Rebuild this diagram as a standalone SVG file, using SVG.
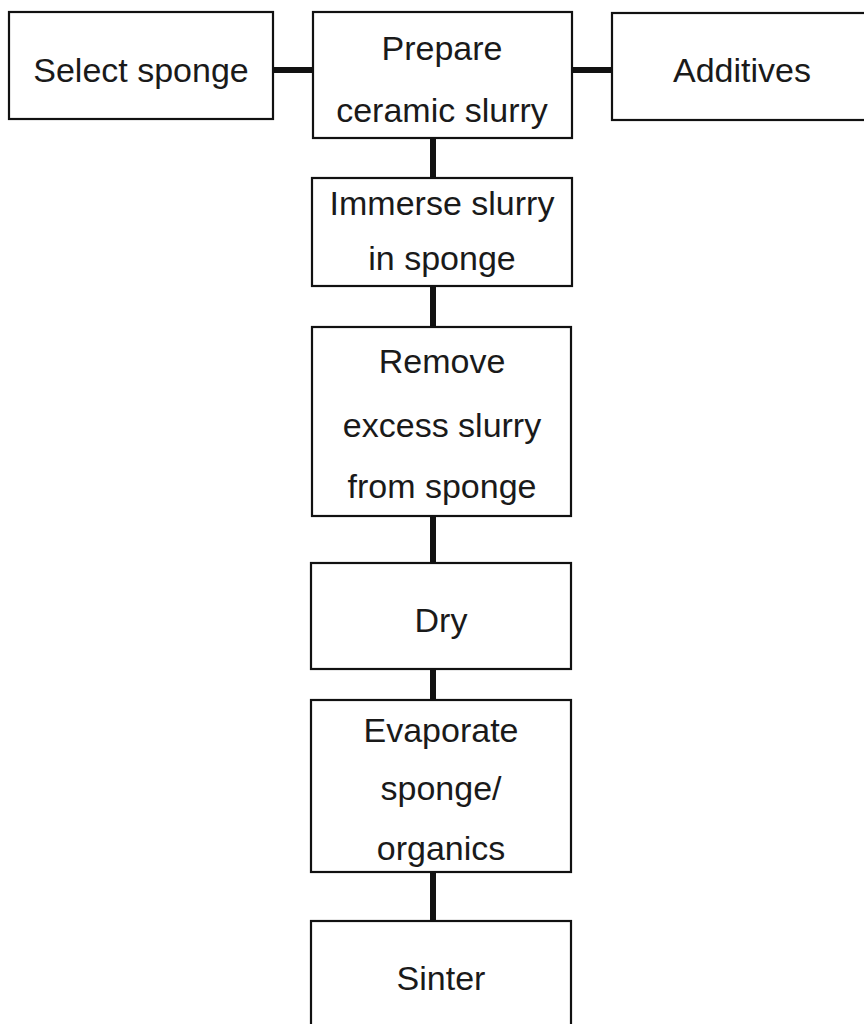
<svg xmlns="http://www.w3.org/2000/svg" width="864" height="1024" viewBox="0 0 864 1024">
<style>
.box{fill:#fff;stroke:#111;stroke-width:2.2}
.lbl{font-family:"Liberation Sans",Arial,sans-serif;font-size:34px;fill:#1a1a1a;text-anchor:middle}
.conn{stroke:#111;stroke-width:6;fill:none}
</style>
<rect width="864" height="1024" fill="#fff"/>
<g id="connectors">
<line class="conn" x1="273" y1="70" x2="313" y2="70"/>
<line class="conn" x1="572" y1="70" x2="612" y2="70"/>
<line class="conn" x1="433" y1="138" x2="433" y2="178"/>
<line class="conn" x1="433" y1="286" x2="433" y2="327"/>
<line class="conn" x1="433" y1="516" x2="433" y2="563"/>
<line class="conn" x1="433" y1="669" x2="433" y2="700"/>
<line class="conn" x1="433" y1="872" x2="433" y2="921"/>
</g>
<g id="select-sponge">
<rect class="box" x="9" y="12" width="264" height="107"/>
<text class="lbl" x="141" y="82">Select sponge</text>
</g>
<g id="prepare-slurry">
<rect class="box" x="313" y="12" width="259" height="126"/>
<text class="lbl" x="442" y="60">Prepare</text>
<text class="lbl" x="442" y="122">ceramic slurry</text>
</g>
<g id="additives">
<rect class="box" x="612" y="13" width="262" height="107"/>
<text class="lbl" x="742" y="82">Additives</text>
</g>
<g id="immerse">
<rect class="box" x="312" y="178" width="260" height="108"/>
<text class="lbl" x="442" y="215">Immerse slurry</text>
<text class="lbl" x="442" y="270">in sponge</text>
</g>
<g id="remove">
<rect class="box" x="312" y="327" width="259" height="189"/>
<text class="lbl" x="442" y="373">Remove</text>
<text class="lbl" x="442" y="437">excess slurry</text>
<text class="lbl" x="442" y="498">from sponge</text>
</g>
<g id="dry">
<rect class="box" x="311" y="563" width="260" height="106"/>
<text class="lbl" x="441" y="632">Dry</text>
</g>
<g id="evaporate">
<rect class="box" x="311" y="700" width="260" height="172"/>
<text class="lbl" x="441" y="742">Evaporate</text>
<text class="lbl" x="441" y="800">sponge/</text>
<text class="lbl" x="441" y="860">organics</text>
</g>
<g id="sinter">
<rect class="box" x="311" y="921" width="260" height="120"/>
<text class="lbl" x="441" y="990">Sinter</text>
</g>
</svg>
